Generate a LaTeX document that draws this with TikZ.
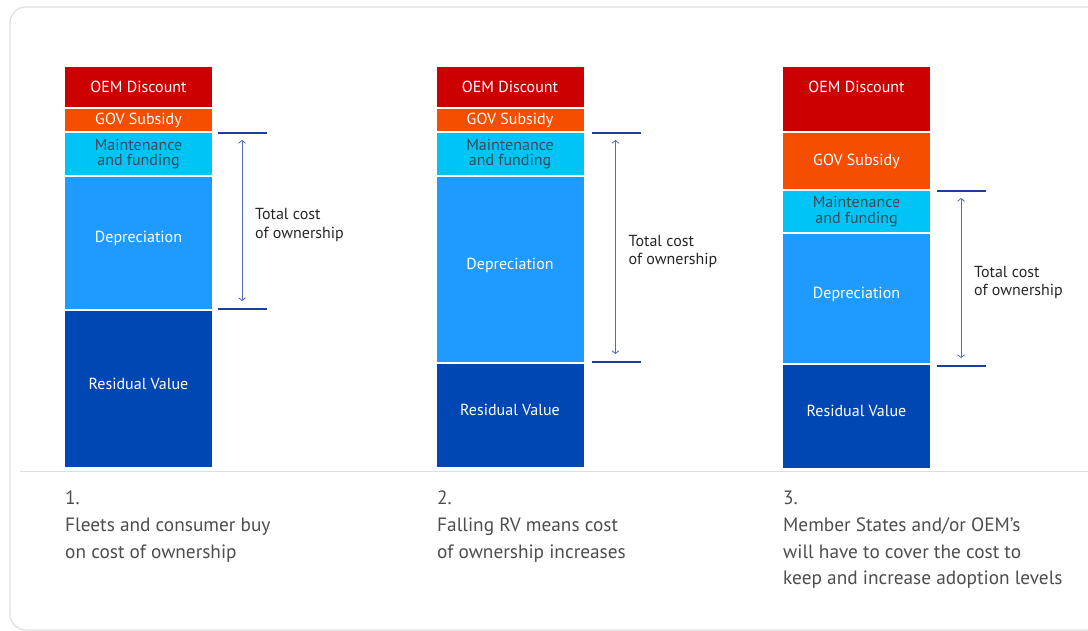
\documentclass[tikz,border=0pt]{standalone}
\usepackage{fontspec}
\setmainfont{PT Sans}
\usetikzlibrary{positioning,arrows.meta,calc}

\definecolor{oemred}{HTML}{CC0000}
\definecolor{govorange}{HTML}{F64E00}
\definecolor{maintcyan}{HTML}{00C4F6}
\definecolor{deprblue}{HTML}{1F9BFF}
\definecolor{resblue}{HTML}{0047B3}
\definecolor{tickblue}{HTML}{1C3F9E}
\definecolor{arrowblue}{HTML}{5068C4}
\definecolor{framegray}{HTML}{DEDEDE}
\definecolor{captiongray}{HTML}{4D4D4D}
\definecolor{labelgray}{HTML}{3B4A56}

\tikzset{
    seg/.style={inner sep=0pt, outer sep=0pt, minimum width=147pt, text=white, align=center,
        font=\fontsize{16}{15.2}\selectfont},
    lift/.style={text height=11pt, text depth=#1},
    tickline/.style={tickblue, line width=1.8pt},
    costspan/.style={arrowblue, line width=0.8pt,
        {Straight Barb[length=2.8pt,width=7pt]}-{Straight Barb[length=2.8pt,width=7pt]}},
    tco/.style={anchor=west, align=left, inner sep=0pt, text=black!85,
        font=\fontsize{16}{18.7}\selectfont},
    captext/.style={anchor=north west, align=left, inner sep=0pt, text=captiongray,
        font=\fontsize{19.3}{26.7}\selectfont},
}

\begin{document}
\begin{tikzpicture}[x=1pt, y=-1pt]
    \useasboundingbox (0,0) rectangle (1088,631);
    \clip (0,0) rectangle (1088,631);
    \draw[framegray, line width=1.2pt, rounded corners=16pt] (10,7) rectangle (1120,630);
    \draw[framegray, line width=1pt] (20,471.5) -- (1088,471.5);

    % bar 1
    \node[seg, fill=oemred, minimum height=40pt, anchor=north] (oemA) at (138.5,67) {OEM Discount};
    \node[seg, fill=govorange, minimum height=22pt, below=2pt of oemA] (govA) {GOV Subsidy};
    \node[seg, fill=maintcyan, minimum height=42pt, text=labelgray, below=2pt of govA] (mntA) {Maintenance\\and funding};
    \node[seg, fill=deprblue, minimum height=132pt, lift=11pt, below=2pt of mntA] (depA) {Depreciation};
    \node[seg, fill=resblue, minimum height=156pt, lift=11pt, below=2pt of depA] (resA) {Residual Value};

    % bar 2
    \node[seg, fill=oemred, minimum height=40pt, anchor=north] (oemB) at (510,67) {OEM Discount};
    \node[seg, fill=govorange, minimum height=22pt, below=2pt of oemB] (govB) {GOV Subsidy};
    \node[seg, fill=maintcyan, minimum height=42pt, text=labelgray, below=2pt of govB] (mntB) {Maintenance\\and funding};
    \node[seg, fill=deprblue, minimum height=185pt, lift=11pt, below=2pt of mntB] (depB) {Depreciation};
    \node[seg, fill=resblue, minimum height=103pt, lift=11pt, below=2pt of depB] (resB) {Residual Value};

    % bar 3
    \node[seg, fill=oemred, minimum height=64pt, lift=23pt, anchor=north] (oemC) at (856.5,67) {OEM Discount};
    \node[seg, fill=govorange, minimum height=56pt, below=2pt of oemC] (govC) {GOV Subsidy};
    \node[seg, fill=maintcyan, minimum height=41pt, text=labelgray, below=2pt of govC] (mntC) {Maintenance\\and funding};
    \node[seg, fill=deprblue, minimum height=129pt, lift=11pt, below=2pt of mntC] (depC) {Depreciation};
    \node[seg, fill=resblue, minimum height=103pt, lift=11pt, below=2pt of depC] (resC) {Residual Value};

    % cost of ownership brackets
    \coordinate (topA) at ([xshift=6pt]mntA.north east);
    \coordinate (botA) at ([xshift=6pt]depA.south east);
    \coordinate (topB) at ([xshift=8pt]mntB.north east);
    \coordinate (botB) at ([xshift=8pt]depB.south east);
    \coordinate (topC) at ([xshift=7pt]mntC.north east);
    \coordinate (botC) at ([xshift=7pt,yshift=-3pt]depC.south east);
    \foreach \b in {A,B,C} {
        \draw[tickline] (top\b) -- +(49,0);
        \draw[tickline] (bot\b) -- +(49,0);
        \draw[costspan] ($(top\b)+(24,7)$) -- ($(bot\b)+(24,-8)$);
        \node[tco] (tco\b) at ($(top\b)!0.5!(bot\b)+(37,4)$) {Total cost\\of ownership};
    }

    \node[captext] (capA) at (65,491) {1.\\Fleets and consumer buy\\on cost of ownership};
    \node[captext] (capB) at (437,491) {2.\\Falling RV means cost\\of ownership increases};
    \node[captext] (capC) at (783,491) {3.\\Member States and/or OEM’s\\will have to cover the cost to\\keep and increase adoption levels};
\end{tikzpicture}
\end{document}
